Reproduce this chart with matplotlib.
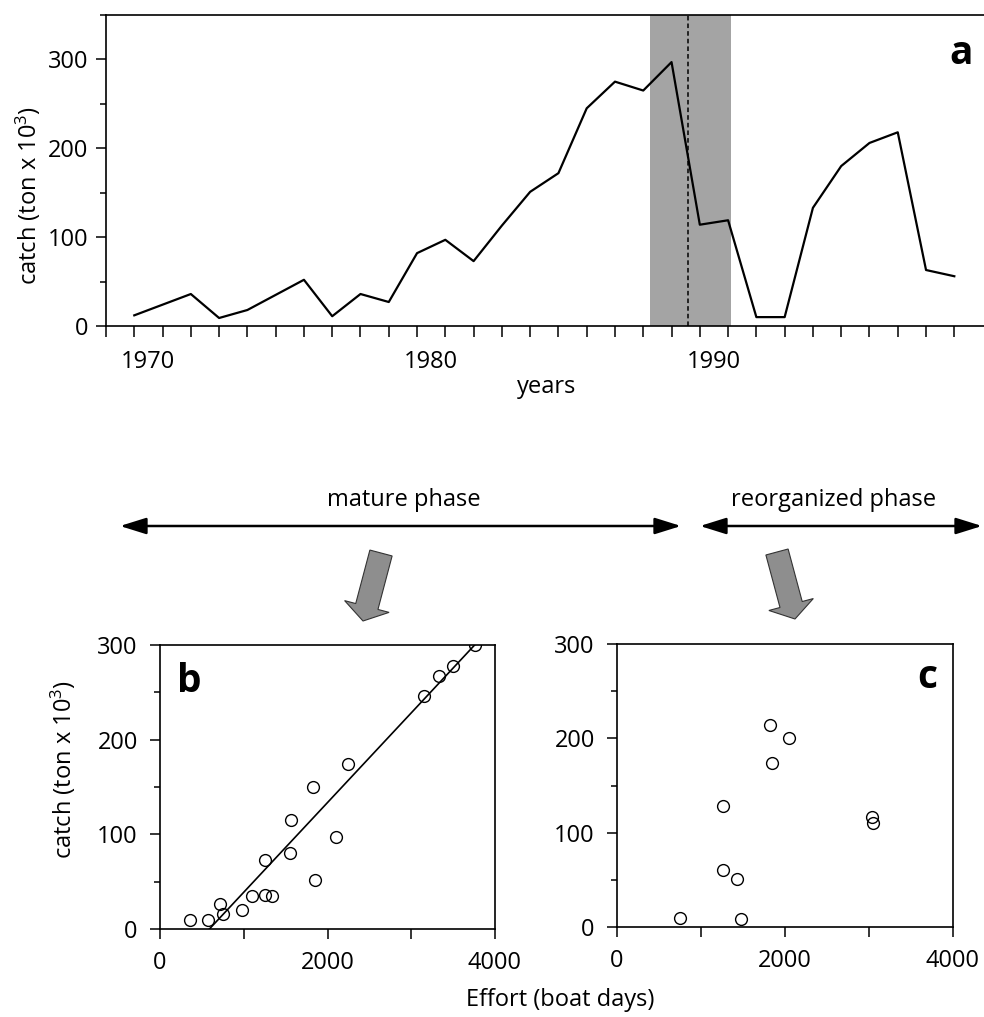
import numpy
import matplotlib
matplotlib.use("Agg")
import matplotlib.pyplot as plt
from matplotlib.patches import FancyArrow, FancyArrowPatch
from matplotlib.ticker import MultipleLocator

plt.rcParams["font.family"] = ["Open Sans", "DejaVu Sans"]
plt.rcParams["mathtext.fontset"] = "custom"
plt.rcParams["mathtext.rm"] = "Open Sans"
plt.rcParams["mathtext.it"] = "Open Sans:italic"

# panel a: yearly catch
years = [1970, 1971, 1972, 1973, 1974, 1975, 1976, 1977, 1978, 1979,
         1980, 1981, 1982, 1983, 1984, 1985, 1986, 1987, 1988, 1989,
         1990, 1991, 1992, 1993, 1994, 1995, 1996, 1997, 1998, 1999]
catch = [12, 24, 36, 9, 18, 35, 52, 11, 36, 27,
         82, 97, 73, 113, 151, 172, 245, 275, 265, 297,
         114, 119, 10, 10, 133, 180, 206, 218, 63, 56]
year_labels = ["1970", "1980", "1990"]
shift_span = [1988.23, 1991.1]
shift_year = 1989.57

# panel b: mature phase
effort_mature = [355, 578, 721, 753, 984, 1104, 1251, 1251, 1335, 1558,
                 1566, 1825, 1845, 2104, 2247, 3147, 3327, 3494, 3757]
catch_mature = [9, 10, 26, 16, 20, 35, 73, 36, 35, 80,
                115, 150, 52, 97, 174, 246, 267, 278, 300]
fit_effort = [590, 3757]
fit_catch = [0, 300]

# panel c: reorganized phase
effort_reorg = [755, 1259, 1267, 1426, 1482, 1823, 1843, 2046, 3039, 3047]
catch_reorg = [10, 128, 60, 51, 8, 214, 174, 200, 117, 110]

W, H = 984, 1017
FS = 17
YLABEL = r"catch (ton x 10$^{3}$)"


def px(x, y):
    # pixel position (from top left) -> figure fraction
    return x / W, 1 - y / H


def inch(x, y):
    return x / 100, (H - y) / 100


def box(left, top, right, bottom):
    return [left / W, 1 - bottom / H, (right - left) / W, (bottom - top) / H]


def style_axis(ax):
    for side in ax.spines.values():
        side.set_linewidth(1.2)
    ax.tick_params(which="both", direction="out", width=1.1,
                   labelsize=FS, length=7)


fig = plt.figure(figsize=(W / 100, H / 100), dpi=100)

# ---- panel a
ax_a = fig.add_axes(box(106, 15, 984, 326))
ax_a.plot(years, catch, color="black", lw=1.6)
ax_a.axvspan(shift_span[0], shift_span[1], color="#a4a4a4", lw=0, zorder=0)
ax_a.axvline(shift_year, color="black", ls=(0, (3, 2)), lw=1.1)
ax_a.set_xlim(1969, 2000.05)
ax_a.set_ylim(0, 350)
style_axis(ax_a)
ax_a.spines["right"].set_visible(False)
ax_a.set_xticks(numpy.arange(1969, 2000))
ax_a.set_xticklabels([])
ax_a.set_xticks([int(y) + 0.5 for y in year_labels], year_labels, minor=True)
ax_a.tick_params(axis="x", which="major", length=8)
ax_a.tick_params(axis="x", which="minor", length=0, pad=17)
ax_a.set_yticks([0, 100, 200, 300])
ax_a.yaxis.set_minor_locator(MultipleLocator(50))
ax_a.tick_params(axis="y", which="major", length=7, pad=6)
ax_a.tick_params(axis="y", which="minor", length=4)
ax_a.text(0.987, 0.94, "a", transform=ax_a.transAxes, ha="right", va="top",
          fontsize=28, fontweight="bold")
fig.text(*px(28, 196), YLABEL, rotation=90, ha="center", va="center",
         fontsize=FS)
fig.text(*px(547, 387), "years", ha="center", va="center", fontsize=FS)

# ---- phase arrows
for x0, x1, label, xt in [(120, 681, "mature phase", 404),
                          (700, 982, "reorganized phase", 834)]:
    arr = FancyArrowPatch(inch(x0, 526), inch(x1, 526),
                          transform=fig.dpi_scale_trans,
                          arrowstyle="<|-|>,head_length=0.8,head_width=0.25",
                          mutation_scale=20, lw=1.8, color="black",
                          shrinkA=0, shrinkB=0)
    fig.add_artist(arr)
    fig.text(*px(xt, 500), label, ha="center", va="center", fontsize=FS)

for top, tip in [((381, 553), (363, 621)), ((777, 552), (795, 619))]:
    x0, y0 = inch(*top)
    x1, y1 = inch(*tip)
    fat = FancyArrow(x0, y0, x1 - x0, y1 - y0, width=0.23, head_width=0.46,
                     head_length=0.15, length_includes_head=True,
                     transform=fig.dpi_scale_trans, facecolor="#8e8e8e",
                     edgecolor="#333333", lw=0.8)
    fig.add_artist(fat)

# ---- panels b and c


def scatter_panel(ax, effort, catch_vals, letter):
    ax.plot(effort, catch_vals, "o", mfc="none", mec="black", ms=8.5,
            mew=1.0)
    ax.set_xlim(0, 4000)
    ax.set_ylim(0, 300)
    style_axis(ax)
    ax.set_xticks([0, 2000, 4000])
    ax.xaxis.set_minor_locator(MultipleLocator(1000))
    ax.set_yticks([0, 100, 200, 300])
    ax.yaxis.set_minor_locator(MultipleLocator(50))
    ax.tick_params(axis="x", which="both", length=7, pad=9)
    ax.tick_params(axis="y", which="major", length=7, pad=9)
    ax.tick_params(axis="y", which="minor", length=4)
    return ax


ax_b = scatter_panel(fig.add_axes(box(160, 645, 495, 929)),
                     effort_mature, catch_mature, "b")
ax_b.plot(fit_effort, fit_catch, color="black", lw=1.2)
ax_b.text(*px(189, 692), "b", transform=fig.transFigure, ha="center",
          va="baseline", fontsize=28, fontweight="bold")
fig.text(*px(63, 770), YLABEL, rotation=90, ha="center", va="center",
         fontsize=FS)

ax_c = scatter_panel(fig.add_axes(box(617, 644, 953, 927)),
                     effort_reorg, catch_reorg, "c")
ax_c.text(*px(927, 688), "c", transform=fig.transFigure, ha="center",
          va="baseline", fontsize=28, fontweight="bold")

fig.text(*px(560, 1000), "Effort (boat days)", ha="center", va="center",
         fontsize=FS)

fig.savefig("out.png", dpi=100)
